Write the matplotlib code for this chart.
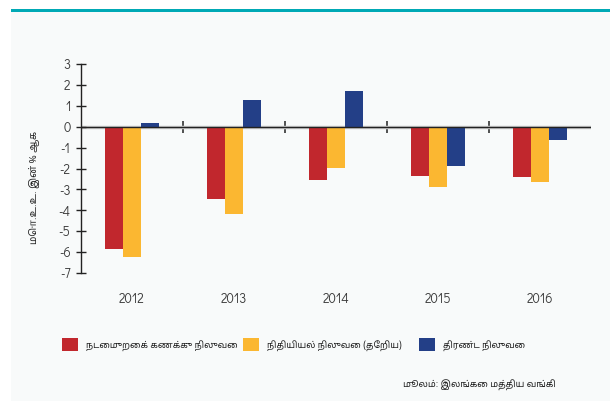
import matplotlib
matplotlib.use("Agg")
import matplotlib.pyplot as plt
import numpy as np
from matplotlib.patches import Rectangle
from matplotlib.legend import Legend

years = ["2012", "2013", "2014", "2015", "2016"]
current_account = [-5.84, -3.44, -2.54, -2.34, -2.39]
financial_account = [-6.22, -4.16, -1.96, -2.87, -2.63]
overall_balance = [0.19, 1.28, 1.71, -1.87, -0.62]
series_names = ["நடைமுறைக் கணக்கு நிலுவை", "நிதியியல் நிலுவை (தேறிய)", "திரண்ட நிலுவை"]
colors = ["#c1272d", "#fbb731", "#233f87"]
ylabel = "மொ.உ.உ. இன் % ஆக"
source = "மூலம்: இலங்கை மத்திய வங்கி"

num_font = ["Didact Gothic", "Questrial", "DejaVu Sans"]
tam_font = ["Noto Sans Tamil", "DejaVu Sans"]

W, H = 610, 401
fig = plt.figure(figsize=(W / 100, H / 100), dpi=100)
fig.patch.set_facecolor("white")

# background panel and teal top rule
fig.patches.append(Rectangle((11 / W, 0), 1 - 11 / W, 1 - 11 / H, transform=fig.transFigure,
                             facecolor="#f8fafa", edgecolor="none", zorder=-5))
fig.patches.append(Rectangle((11 / W, 1 - 12 / H), 1 - 11 / W, 3 / H, transform=fig.transFigure,
                             facecolor="#00a9b5", edgecolor="none", zorder=-4))

left, right = 81 / W, 591 / W
top, bottom = 1 - 64 / H, 1 - 273 / H
ax = fig.add_axes([left, bottom, right - left, top - bottom])
ax.set_zorder(2)
ax.set_facecolor("none")

x = np.arange(len(years))
bw = 0.176
bars = []
for i, (vals, c) in enumerate(zip([current_account, financial_account, overall_balance], colors)):
    bars.append(ax.bar(x + (i - 1) * bw, vals, width=bw, color=c, label=series_names[i], zorder=2))

ax.set_xlim(-0.5, len(years) - 0.5)
ax.set_ylim(-7, 3)
ax.set_yticks(np.arange(-7, 4, 1))
ax.set_yticklabels([str(v) for v in range(-7, 4)], fontfamily=num_font, fontsize=9.5, color="#3a3a3a")
ax.tick_params(axis="y", direction="inout", length=7, width=1, color="#222222", pad=4)

ax.set_xticks(x)
ax.set_xticklabels(years, fontfamily=num_font, fontsize=9.5, color="#3a3a3a")
ax.tick_params(axis="x", length=0, pad=14)

for s in ["top", "right", "bottom"]:
    ax.spines[s].set_visible(False)
ax.spines["left"].set_color("#222222")
ax.spines["left"].set_linewidth(1)

ax.axhline(0, color="#cccccc", linewidth=2.5, zorder=1)
ax.axhline(0, color="#222222", linewidth=1.0, zorder=3)

# boundary ticks on the zero line
y0 = ax.get_ylim()
loc0 = (0 - y0[0]) / (y0[1] - y0[0])
sec = ax.secondary_xaxis(loc0)
sec.set_xticks(x[:-1] + 0.5)
sec.set_xticklabels([])
sec.tick_params(direction="inout", length=8, width=1.2, color="#333333")
sec.spines["bottom"].set_visible(False)
sec.spines["top"].set_visible(False)

fig.text(35 / W, 1 - 188 / H, ylabel, rotation=90, ha="center", va="center",
         fontsize=7, fontfamily=tam_font, color="#222222")

# legend: one entry per anchor so each swatch sits where the reference has it
fs = 6.5
hl = 11.5 / fs
anchors = [55, 236, 412]
for b, name, ax_px in zip(bars, series_names, anchors):
    lg = Legend(ax, [b], [name], loc="upper left", bbox_to_anchor=(ax_px / W, 1 - 331 / H),
                bbox_transform=fig.transFigure, frameon=False,
                prop={"family": tam_font, "size": fs},
                handlelength=hl, handleheight=hl, handletextpad=0.9, borderpad=0.3)
    for t in lg.get_texts():
        t.set_color("#222222")
    ax.add_artist(lg)

fig.text(403 / W, 1 - 385 / H, source, ha="left", va="center", fontsize=6.6,
         fontfamily=tam_font, color="#222222")

fig.savefig("out.png", dpi=100, facecolor="white")
